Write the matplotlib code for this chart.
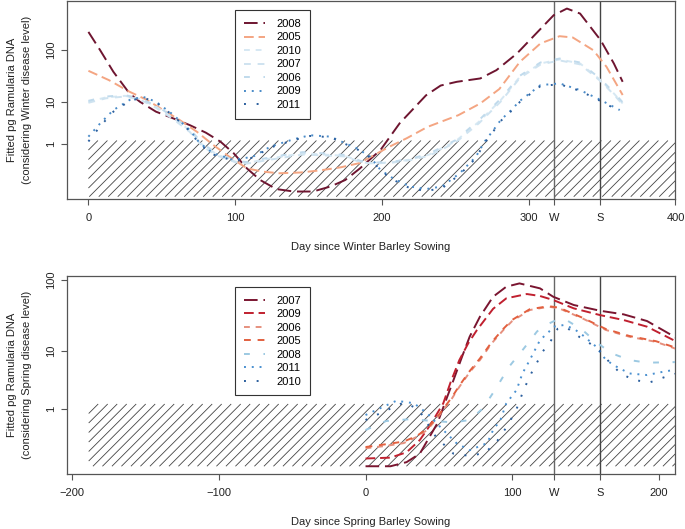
import numpy as np
import matplotlib
matplotlib.use("Agg")
import matplotlib.pyplot as plt
from matplotlib.ticker import NullLocator
from matplotlib.collections import LineCollection

plt.rcParams['font.family'] = ['Liberation Sans', 'DejaVu Sans']
plt.rcParams['font.size'] = 8

# ---------------- data ----------------
OFFSET = 0.75          # axis is log10(pg + OFFSET)
THRESH = 1.28          # hatched region upper limit (pg)

# Winter barley (top panel)
w2008_day = [0, 8, 17, 28, 35, 46, 58, 69, 80, 90, 99, 108, 117, 128, 140, 153, 165, 175, 185, 199,
             212, 230, 240, 251, 267, 278, 292, 305, 317, 326, 335, 349, 358, 364]
w2008_val = [219, 99, 38.6, 14.7, 10.1, 6.3, 4.5, 3.2, 2.1, 1.18, 0.42, -0.14, -0.38, -0.50, -0.525, -0.525,
             -0.47, -0.38, -0.14, 0.6, 3.5, 13.5, 21, 24.8, 28.8, 41.5, 86, 204, 451, 601, 484, 153, 55.6, 24.8]

w2005_day = [0, 14, 28, 40, 51, 62, 74, 85, 96, 108, 119, 130, 144, 158, 172, 185, 195, 205, 217, 231,
             252, 267, 280, 294, 308, 321, 330, 344, 353, 364]
w2005_val = [40.3, 26.7, 15.9, 10.9, 6.8, 4.2, 2.2, 0.93, 0.26, -0.14, -0.22, -0.255, -0.24, -0.19, -0.11,
             0.02, 0.35, 0.8, 1.5, 2.9, 5.3, 9.3, 18, 59.8, 133, 182, 172, 99, 48, 13.7]

wblue_day = [0, 12, 25, 35, 46, 58, 69, 78, 88, 100, 108, 125, 146, 160, 175, 185, 194, 208, 220, 232,
             250, 266, 281, 294, 308, 321, 335, 349, 358, 364]
w2010_val = [10.1, 12.3, 13.2, 11.5, 8.0, 4.6, 2.4, 0.9, 0.35, 0.07, 0.02, 0.2, 0.42, 0.36, 0.3, 0.07, 0.01,
             0.05, 0.15, 0.35, 1.2, 3.8, 10.9, 31, 55.6, 66.2, 55.6, 26.7, 14.7, 9.3]
w2007_val = [9.6, 11.8, 12.8, 11.2, 7.6, 4.3, 2.2, 0.8, 0.3, 0.05, 0.0, 0.15, 0.36, 0.32, 0.27, 0.05, 0.0,
             0.04, 0.13, 0.3, 1.1, 3.5, 10.2, 29.5, 53, 63.5, 53.5, 25.5, 14, 8.8]
w2006_val = [10.5, 12.8, 13.6, 11.8, 8.4, 4.9, 2.6, 1.0, 0.4, 0.1, 0.05, 0.25, 0.48, 0.42, 0.34, 0.1, 0.03,
             0.07, 0.18, 0.4, 1.3, 4.1, 11.6, 32.5, 58, 69, 58, 28, 15.4, 9.8]

wdot_day = [0, 8, 17, 28, 37, 46, 58, 69, 76, 85, 99, 112, 124, 140, 151, 165, 175, 183, 192, 199,
            208, 219, 230, 241, 253, 264, 270, 276, 281, 287, 294, 308, 321, 335, 349, 362]
w2009_val = [1.65, 3.5, 6.8, 10.9, 12.7, 10.1, 5.35, 2.45, 1.05, 0.42, 0.13, 0.26, 0.81, 1.4, 1.8, 1.65, 1.05,
             0.7, 0.26, -0.18, -0.36, -0.47, -0.50, -0.47, -0.255, 0.26, 1.2, 2.45, 4.2, 6.3, 10.5, 21.4,
             23.1, 17.1, 10.9, 6.8]
w2011_val = [1.2, 3.0, 6.3, 10.4, 12.3, 9.8, 5.1, 2.3, 0.95, 0.36, 0.1, 0.22, 0.75, 1.33, 1.72, 1.6, 1.0,
             0.65, 0.22, -0.2, -0.38, -0.49, -0.52, -0.49, -0.28, 0.2, 1.1, 2.3, 4.0, 6.0, 10.0, 20.5,
             22.3, 16.5, 10.4, 6.4]

# Spring barley (bottom panel)
s2007_day = [0, 17, 28, 37, 44, 49, 55, 60, 66, 71, 78, 87, 96, 105, 119, 128, 142, 160, 176, 192, 210, 212]
s2007_val = [-0.46, -0.46, -0.42, -0.32, 0.0, 0.37, 1.6, 3.6, 8.5, 16.2, 31, 58.8, 80.9, 89.8, 76.7, 58.8,
             45.2, 37.6, 33.5, 27, 16.5, 15.5]
s2009_day = [0, 17, 28, 37, 44, 53, 58, 64, 70, 76, 87, 96, 110, 119, 128, 142, 160, 176, 192, 210, 212]
s2009_val = [-0.38, -0.37, -0.3, -0.09, 0.3, 1.34, 3.3, 7.4, 13, 20.2, 40, 55.9, 64.1, 60.2, 53, 40.6, 32.7,
             27.9, 22.5, 14.5, 13.8]
s_red_day = [0, 14, 26, 35, 42, 48, 53, 59, 64, 71, 78, 86, 94, 100, 112, 125, 132, 148, 164, 180, 198, 212]
s2006_val = [-0.24, -0.2, -0.15, -0.02, 0.155, 0.5, 0.95, 1.7, 2.77, 4.8, 7.4, 13, 20.2, 27, 38.5, 42.8,
             40.6, 29.4, 20.2, 16.2, 13.7, 10.8]
s2005_val = [-0.22, -0.17, -0.12, 0.0, 0.2, 0.55, 1.0, 1.8, 2.9, 5.0, 7.8, 13.5, 21, 28, 39.5, 43.5, 41.5,
             30, 20.8, 16.6, 14, 11.2]
s2008_day = [0, 14, 30, 42, 60, 71, 80, 89, 98, 108, 117, 123, 130, 137, 148, 157, 168, 180, 192, 212]
s2008_val = [0.155, 0.45, 0.52, 0.47, 0.40, 0.49, 1.03, 2.6, 5.9, 11, 19.3, 23.7, 27.9, 27.9, 20.2, 13.7,
             9.3, 7.4, 6.75, 6.9]
s2011_day = [0, 21, 33, 42, 53, 62, 71, 83, 87, 92, 96, 103, 107, 112, 119, 125, 128, 135, 142, 148, 157,
             164, 171, 180, 192, 203, 212]
s2011_val = [0.70, 1.52, 1.35, 0.78, 0.155, -0.15, -0.27, -0.15, 0.155, 0.49, 1.34, 2.43, 4.6, 7.4, 14.5,
             19, 22.5, 23.7, 21.1, 17.1, 11.8, 7.4, 5.9, 4.6, 4.34, 4.9, 5.3]
s2010_day = [0, 15, 26, 36, 48, 60, 72, 82, 90, 97, 103, 108, 113, 121, 126, 131, 137, 146, 153, 160, 167,
             174, 183, 194, 205, 212]
s2010_val = [0.49, 0.95, 1.4, 1.0, -0.02, -0.32, -0.35, -0.3, -0.1, 0.3, 1.0, 2.5, 4.6, 10, 13.7, 21, 22,
             16, 13, 10, 6.6, 4.6, 3.6, 3.3, 4.1, 4.6]

top_years = ['2008', '2005', '2010', '2007', '2006', '2009', '2011']
top_series = [(w2008_day, w2008_val), (w2005_day, w2005_val), (wblue_day, w2010_val),
              (wblue_day, w2007_val), (wblue_day, w2006_val), (wdot_day, w2009_val), (wdot_day, w2011_val)]
top_colors = ['#6E1530', '#F4A582', '#D6E8F3', '#CFE3F0', '#C0DAEC', '#4A8BC8', '#2B5F9E']

bot_years = ['2007', '2009', '2006', '2005', '2008', '2011', '2010']
bot_series = [(s2007_day, s2007_val), (s2009_day, s2009_val), (s_red_day, s2006_val),
              (s_red_day, s2005_val), (s2008_day, s2008_val), (s2011_day, s2011_val), (s2010_day, s2010_val)]
bot_colors = ['#7A1530', '#C0202F', '#E6907E', '#E2603F', '#9CC9E2', '#4A90D0', '#2B5F9E']

dash_styles = [(0, (7, 3)), (0, (5, 2.5)), (0, (3, 3)), (0, (3.5, 3.5)), (0, (3, 7)), (0, (1, 3)), (0, (1, 5.5))]

W_top, S_top = 317.2, 348.6
W_bot, S_bot = 128.4, 159.8
top_xticks = [0, 100, 200, 300, 400]
bot_xticks = [-200, -100, 0, 100, 200]
yticks = [1, 10, 100]

# ---------------- figure ----------------
W, H = 685, 529
fig = plt.figure(figsize=(W / 100, H / 100), dpi=100)


def fwd(v):
    return np.log10(np.maximum(np.asarray(v, dtype=float) + OFFSET, 1e-9))


def inv(t):
    return 10 ** np.asarray(t, dtype=float) - OFFSET


def make_axes(top_px, bot_px):
    left, right = 66.7, 675.5
    return fig.add_axes([left / W, 1 - bot_px / H, (right - left) / W, (bot_px - top_px) / H])


def hatch(ax, x0, x1, y0, y1, spacing=9.5):
    (X0, Y0) = ax.transData.transform((x0, y0))
    (X1, Y1) = ax.transData.transform((x1, y1))
    segs = []
    c = X0 - Y1
    inv_t = ax.transData.inverted()
    while c < X1 - Y0:
        ylo = max(Y0, X0 - c)
        yhi = min(Y1, X1 - c)
        if yhi > ylo:
            p = inv_t.transform([(c + ylo, ylo), (c + yhi, yhi)])
            segs.append(p)
        c += spacing
    lc = LineCollection(segs, colors='#444444', linewidths=0.6, zorder=1)
    ax.add_collection(lc)


def style_axes(ax, xlim, ylim, xticks, W_, S_):
    ax.set_yscale('function', functions=(fwd, inv))
    ax.set_xlim(*xlim)
    ax.set_ylim(*ylim)
    ax.set_xticks(xticks + [W_, S_])
    ax.set_xticklabels([f"{t:d}".replace('-', '\u2212') for t in xticks] + ['W', 'S'])
    ax.set_yticks(yticks)
    ax.set_yticklabels([str(t) for t in yticks])
    ax.yaxis.set_minor_locator(NullLocator())
    ax.xaxis.set_minor_locator(NullLocator())
    for sp in ax.spines.values():
        sp.set_color('#555555')
        sp.set_linewidth(0.9)
    ax.tick_params(axis='both', length=4.3, width=0.8, color='#555555', labelcolor='#222222', labelsize=8)
    ax.tick_params(axis='x', pad=6)
    ax.tick_params(axis='y', pad=3.5)
    for lbl in ax.get_yticklabels():
        lbl.set_rotation(90)
        lbl.set_va('center')
    ax.axvline(W_, color='#666666', lw=1.0, zorder=2)
    ax.axvline(S_, color='#444444', lw=1.0, zorder=2)


def draw_panel(ax, years, series, colors):
    handles = []
    for yr, (d, v), col, ls in zip(years, series, colors, dash_styles):
        ln, = ax.plot(d, v, color=col, lw=1.4, linestyle=ls, dash_capstyle='butt', label=yr, zorder=3)
        handles.append(ln)
    return handles


def add_legend(ax, handles, top_px):
    leg = ax.legend(handles=handles, loc='upper left', bbox_to_anchor=(235 / W, 1 - top_px / H),
                    bbox_transform=fig.transFigure, frameon=True, fancybox=False, framealpha=1,
                    edgecolor='#333333', fontsize=8, handlelength=1.9, handletextpad=1.0,
                    labelspacing=0.315, borderpad=0.8, borderaxespad=0)
    leg.get_frame().set_linewidth(0.8)
    return leg


# top panel
ax1 = make_axes(1, 199)
style_axes(ax1, (-14.8, 400), (-0.587, 833), top_xticks, W_top, S_top)
hatch(ax1, 0, 400, -0.57, THRESH)
h1 = draw_panel(ax1, top_years, top_series, top_colors)
add_legend(ax1, h1, 10)

# bottom panel
ax2 = make_axes(276, 473.5)
style_axes(ax2, (-203.8, 211.4), (-0.519, 113.5), bot_xticks, W_bot, S_bot)
hatch(ax2, -188.8, 211.4, -0.46, THRESH + 0.02)
h2 = draw_panel(ax2, bot_years, bot_series, bot_colors)
add_legend(ax2, h2, 286.7)

# labels
cx = (66.7 + 675.5) / 2 / W
fig.text(cx, 1 - 247 / H, 'Day since Winter Barley Sowing', ha='center', va='center', fontsize=8, color='#222222')
fig.text(cx, 1 - 521.7 / H, 'Day since Spring Barley Sowing', ha='center', va='center', fontsize=8, color='#222222')
for (ycen, season) in [(100, 'Winter'), (375, 'Spring')]:
    fig.text(12 / W, 1 - ycen / H, 'Fitted pg Ramularia DNA', rotation=90, ha='center', va='center',
             fontsize=8, color='#222222')
    fig.text(27 / W, 1 - ycen / H, f'(considering {season} disease level)', rotation=90, ha='center',
             va='center', fontsize=8, color='#222222')

fig.savefig('out.png', dpi=100)
